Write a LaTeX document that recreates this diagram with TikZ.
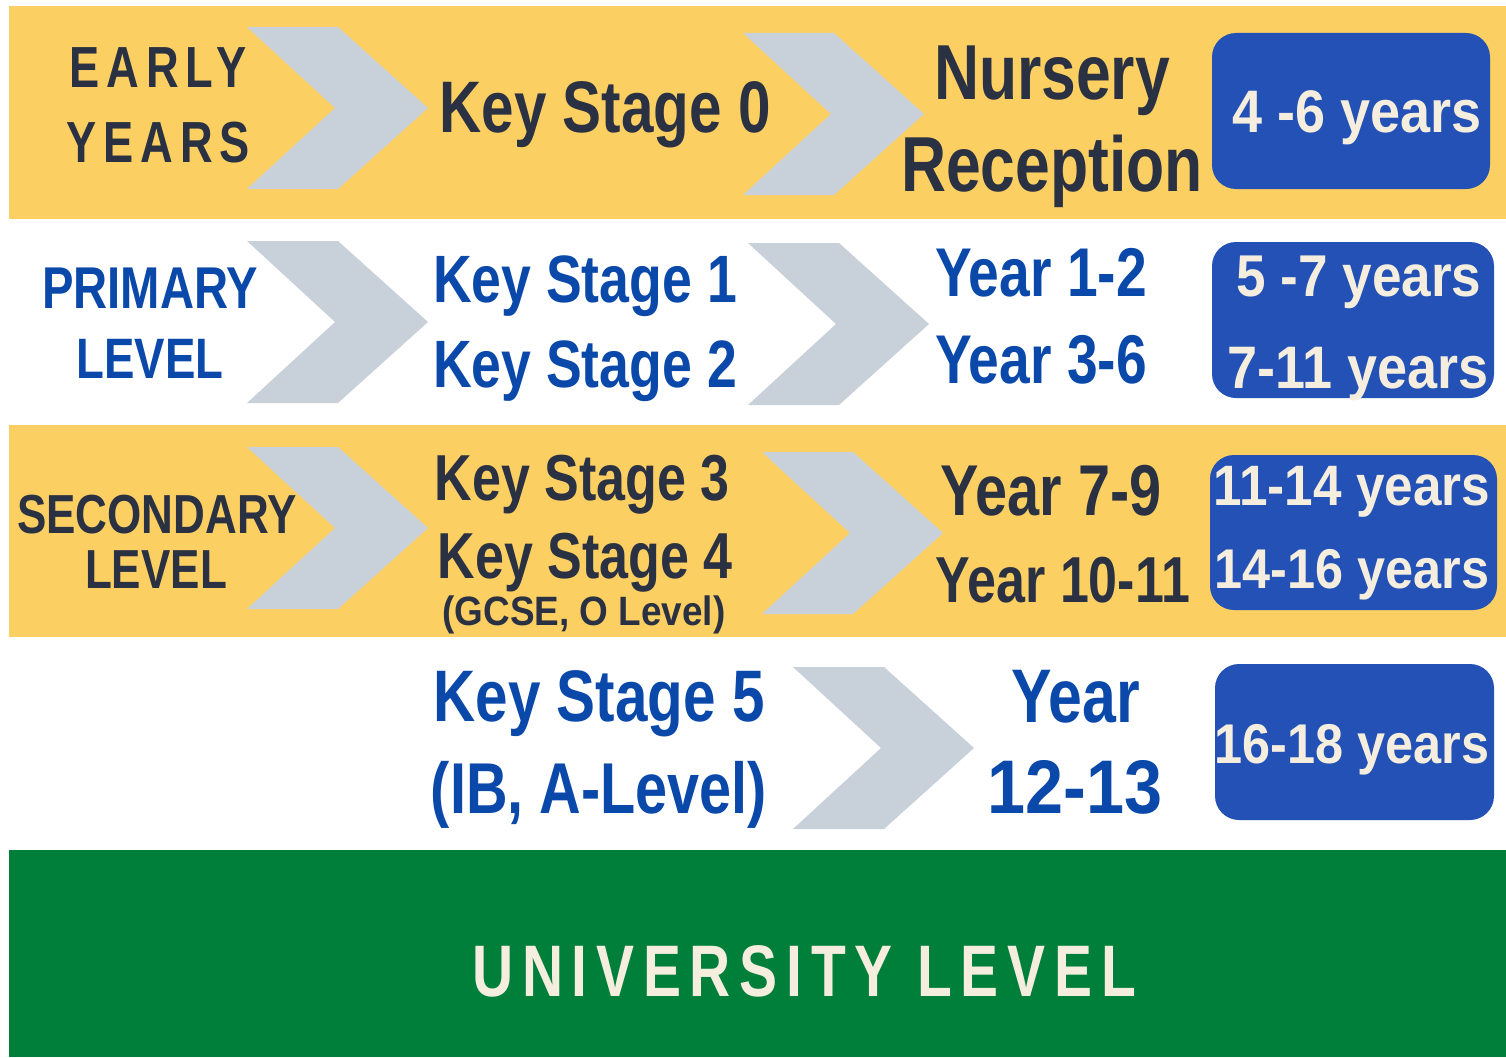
\documentclass[tikz,border=0pt]{standalone}
\usepackage{fontspec}
\usetikzlibrary{positioning}
\newfontfamily\cond[FakeStretch=0.8]{Liberation Sans Bold}
\newfontfamily\semi[FakeStretch=0.9]{Liberation Sans Bold}
\newfontfamily\wide[FakeStretch=0.78,LetterSpace=12]{Liberation Sans Bold}
\definecolor{bandyellow}{RGB}{252,207,98}
\definecolor{bandgreen}{RGB}{0,127,58}
\definecolor{chevgray}{RGB}{200,208,217}
\definecolor{darktext}{RGB}{42,49,66}
\definecolor{bluetext}{RGB}{10,72,170}
\definecolor{boxblue}{RGB}{35,81,181}
\definecolor{cream}{RGB}{245,238,222}
\newcommand{\fs}[1]{\fontsize{#1}{#1}\selectfont}
% chevron with top left corner at (#1,#2)
\newcommand{\chevr}[2]{\fill[chev] (#1,#2) -- ++(91,0) -- ++(90,81) -- ++(-90,81) -- ++(-91,0) -- ++(88,-81) -- cycle;}

\begin{document}
\begin{tikzpicture}[x=1pt,y=-1pt,
  chev/.style={fill=chevgray},
  agebox/.style={fill=boxblue, rounded corners=24pt},
  dk/.style={text=darktext, inner sep=0pt, anchor=base},
  bl/.style={text=bluetext, inner sep=0pt, anchor=base},
  cr/.style={text=cream, inner sep=0pt, anchor=base}]
\useasboundingbox (0,0) rectangle (1506,1057);

% bands
\fill[bandyellow] (9,6) rectangle (1506,219);
\fill[bandyellow] (9,425) rectangle (1506,637);
\fill[bandgreen] (9,850) rectangle (1506,1057);

% chevrons
\chevr{247}{27}
\chevr{743}{33}
\chevr{247}{241}
\chevr{748}{243}
\chevr{247}{447}
\chevr{762}{452}
\chevr{793}{667}

% age boxes
\fill[agebox] (1212,33) rectangle (1490,189);
\fill[agebox] (1212,242) rectangle (1494,398);
\fill[agebox] (1210,455) rectangle (1497,610);
\fill[agebox] (1215,664) rectangle (1494,820);

% early years
\node[dk, font=\wide\fs{58}] (early) at (158,88) {EARLY};
\node[dk, font=\wide\fs{58}] (years) at (158,162) {YEARS};
\node[dk, font=\cond\fs{73}] (ks0) at (605,132) {Key Stage 0};
\node[dk, font=\cond\fs{78}] (nurs) at (1052,99) {Nursery};
\node[dk, font=\cond\fs{78}] (recp) at (1052,191) {Reception};
\node[cr, font=\semi\fs{60}] (age0) at (1357,132) {4 -6 years};

% primary
\node[bl, font=\cond\fs{59}] (prim) at (150,308) {PRIMARY};
\node[bl, font=\cond\fs{57}] (plev) at (150,378) {LEVEL};
\node[bl, font=\cond\fs{67}] (ks1) at (585,302) {Key Stage 1};
\node[bl, font=\cond\fs{67}] (ks2) at (585,387) {Key Stage 2};
\node[bl, font=\cond\fs{69}] (yr12) at (1041,296) {Year 1-2};
\node[bl, font=\cond\fs{69}] (yr36) at (1041,383) {Year 3-6};
\node[cr, font=\semi\fs{59}] (age1) at (1359,296) {5 -7 years};
\node[cr, font=\semi\fs{60}] (age2) at (1358,388) {7-11 years};

% secondary
\node[dk, font=\cond\fs{55}] (sec) at (157,533) {SECONDARY};
\node[dk, font=\cond\fs{55}] (slev) at (156,588) {LEVEL};
\node[dk, font=\cond\fs{65}] (ks3) at (582,500) {Key Stage 3};
\node[dk, font=\cond\fs{65}] (ks4) at (585,578) {Key Stage 4};
\node[dk, font=\semi\fs{41}] (gcse) at (584,625) {(GCSE, O Level)};
\node[dk, font=\cond\fs{72}] (yr79) at (1051,515) {Year 7-9};
\node[dk, font=\cond\fs{65}] (yr1011) at (1063,602) {Year 10-11};
\node[cr, font=\semi\fs{57}] (age3) at (1352,505) {11-14 years};
\node[cr, font=\semi\fs{56}] (age4) at (1352,588) {14-16 years};

% sixth form
\node[bl, font=\cond\fs{73}] (ks5) at (599,721) {Key Stage 5};
\node[bl, font=\cond\fs{72}] (ib) at (599,813) {(IB, A-Level)};
\node[bl, font=\cond\fs{76}] (yr) at (1076,722) {Year};
\node[bl, font=\semi\fs{76}] (yr1213) at (1075,813) {12-13};
\node[cr, font=\semi\fs{56}] (age5) at (1352,763) {16-18 years};

% university
\node[cr, font=\wide\fs{73}] (uni) at (804,996) {UNIVERSITY LEVEL};
\end{tikzpicture}
\end{document}
